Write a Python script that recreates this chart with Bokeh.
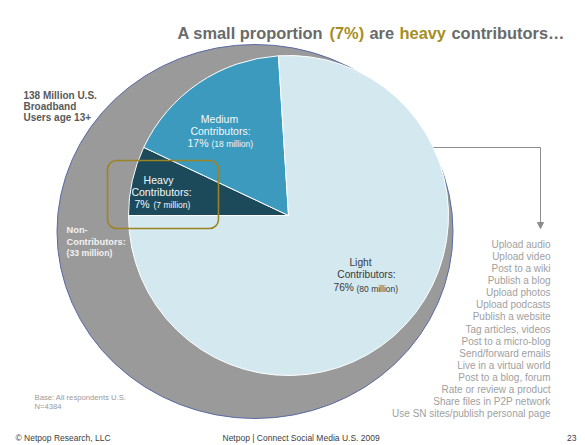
from bokeh.plotting import figure
from bokeh.models import Range1d, ColumnDataSource, Arrow, NormalHead
from bokeh.core.properties import value
from bokeh.embed import file_html
from bokeh.resources import INLINE
import numpy as np

# ---- data ----
segments = ["Heavy", "Medium", "Light"]
shares = [7, 17, 76]            # % of contributors
millions = [7, 18, 80]
non_contrib_millions = 33
total_label = ["138 Million U.S.", "Broadband", "Users age 13+"]
activities = ["Upload audio", "Upload video", "Post to a wiki", "Publish a blog",
              "Upload photos", "Upload podcasts", "Publish a website",
              "Tag articles, videos", "Post to a micro-blog", "Send/forward emails",
              "Live in a virtual world", "Post to a blog, forum",
              "Rate or review a product", "Share files in P2P network",
              "Use SN sites/publish personal page"]
seg_colors = ["#1c4a5a", "#3b9abd", "#d3e8ef"]

W, H = 585, 445
FONT = value("Liberation Sans")

def Y(y):
    return H - y

p = figure(width=W, height=H, x_range=Range1d(0, W), y_range=Range1d(0, H),
           output_backend="svg", toolbar_location=None,
           x_axis_location=None, y_axis_location=None, min_border=0)
p.grid.visible = False
p.outline_line_color = None
p.background_fill_color = "white"
p.border_fill_color = "white"

# outer grey disc (all broadband users)
p.ellipse(x=[254.5], y=[Y(231)], width=[396], height=[374],
          fill_color="#9a9a9a", line_color="#5a6aa6", line_width=1)

# contributor pie
cx, cy, r = 288, Y(215), 160
cum = np.cumsum([0] + shares)
starts = [np.deg2rad(180 - cum[i + 1] * 3.6) for i in range(len(shares))]
ends = [np.deg2rad(180 - cum[i] * 3.6) for i in range(len(shares))]
src = ColumnDataSource(dict(x=[cx] * 3, y=[cy] * 3, start=starts, end=ends,
                            color=seg_colors, seg=segments))
p.wedge(x="x", y="y", radius=r, start_angle="start", end_angle="end",
        fill_color="color", line_color="white", line_width=1, source=src)

# highlight box around heavy contributors
p.quad(left=[107], right=[218], top=[Y(160)], bottom=[Y(228)],
       fill_color=None, line_color="#9c8424", line_width=1.6, border_radius=9)

# arrow to activities list
p.line(x=[433, 540], y=[Y(147), Y(147)], line_color="#8c8c8c", line_width=1)
p.add_layout(Arrow(end=NormalHead(size=6, fill_color="#8c8c8c", line_color="#8c8c8c"),
                   x_start=540, y_start=Y(147), x_end=540, y_end=Y(228),
                   line_color="#8c8c8c", line_width=1))

def txt(xs, ys, texts, size, color, align="left", style="normal", baseline="middle"):
    p.text(x=xs, y=[Y(v) for v in ys], text=texts, text_font=FONT,
           text_font_size=value(size), text_color=color, text_align=align,
           text_baseline=baseline, text_font_style=style)

# title
GOLD = "#a68e1f"
TGRAY = "#6a6a6a"
txt([177], [32], ["A small proportion"], "16.4px", TGRAY, style="bold", baseline="alphabetic")
txt([329], [32], ["(%d%%)" % shares[0]], "16.4px", GOLD, style="bold", baseline="alphabetic")
txt([369], [32], ["are"], "16.4px", TGRAY, style="bold", baseline="alphabetic")
txt([399], [32], ["heavy"], "16.4px", GOLD, style="bold", baseline="alphabetic")
txt([451], [32], ["contributors…"], "16.4px", TGRAY, style="bold", baseline="alphabetic")

# total label
txt([23] * 3, [95, 106, 117], total_label, "10px", "#595959", style="bold")

# non-contributors
txt([66, 66], [229, 241], ["Non-", "Contributors:"], "9.3px", "#f2f2f2", style="bold")
txt([66], [252], ["(%d million)" % non_contrib_millions], "8.7px", "#f2f2f2", style="bold")

# medium label
WH = "#f4f8fa"
txt([219, 220], [118, 130], ["Medium", "Contributors:"], "10.5px", WH, align="center")
txt([187], [142], ["%d%%" % shares[1]], "10.5px", WH)
txt([211], [143], ["(%d million)" % millions[1]], "8.5px", WH)

# heavy label
txt([158, 161], [179, 191], ["Heavy", "Contributors:"], "10.5px", WH, align="center")
txt([134], [203], ["%d%%" % shares[0]], "10.5px", WH)
txt([153], [204], ["(%d million)" % millions[0]], "8.5px", WH)

# light label
DK = "#3a3a3a"
txt([360, 366], [262, 274], ["Light", "Contributors:"], "10.2px", DK, align="center")
txt([333], [287], ["%d%%" % shares[2]], "10.2px", DK)
txt([356], [288], ["(%d million)" % millions[2]], "8.5px", DK)

# activities list
n = len(activities)
ys = [244 + i * (413 - 244) / (n - 1) for i in range(n)]
txt([550] * n, ys, activities, "10px", "#a0a0a0", align="right")

# base note
txt([34, 34], [397, 406], ["Base: All respondents U.S.", "N=4384"], "7.7px", "#9a9a9a")

# footer
txt([15], [437], ["© Netpop Research, LLC"], "8.5px", "#404040")
txt([222], [437], ["Netpop | Connect  Social Media U.S. 2009"], "8.5px", "#404040")
txt([576], [437], ["23"], "8.5px", "#404040", align="right")

open("out.html", "w").write(file_html(p, INLINE))
